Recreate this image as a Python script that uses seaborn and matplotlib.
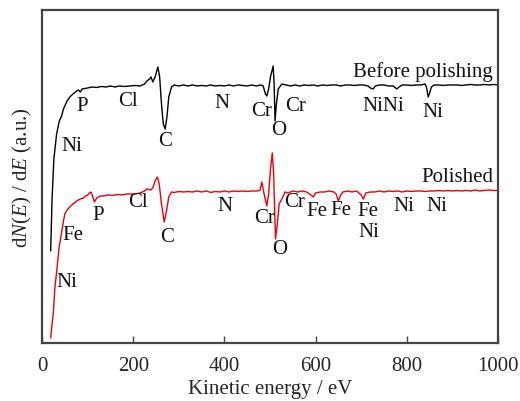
import matplotlib
matplotlib.use("Agg")
import matplotlib.pyplot as plt
import seaborn as sns
import pandas as pd

# ---- data (kinetic energy in eV, intensity in a.u.) ----
before_energy = [19, 22, 26, 32, 38, 43, 47, 55, 61, 68, 76, 80, 84, 88, 100, 110, 120, 130, 140, 150,
                 160, 170, 180, 193, 205, 215, 225, 230, 236, 239, 243, 248, 254, 258, 262, 266, 270, 274,
                 278, 284, 290, 300, 310, 320, 330, 340, 350, 360, 370, 380, 390, 400, 410, 420, 430, 440,
                 450, 460, 470, 480, 485, 490, 493, 497, 501, 507, 509, 511, 514, 518, 526, 535, 545, 555,
                 565, 575, 585, 595, 605, 615, 625, 635, 645, 655, 665, 675, 685, 695, 705, 715, 720, 726,
                 731, 740, 750, 760, 770, 778, 783, 790, 800, 810, 820, 830, 840, 843, 847, 850, 854, 860,
                 870, 880, 890, 900, 910, 920, 930, 940, 950, 960, 970, 980, 990, 1000]
before_signal = [92, 144, 184, 209, 222, 227, 234, 242, 246, 249, 252, 253, 251, 254, 255, 256, 255.5, 256.5,
                 256, 257, 256, 257, 256.5, 257, 257.5, 257, 259, 262, 264, 266, 261, 266, 276, 266, 239, 219,
                 214, 226, 246, 256, 258, 257, 258, 257, 258, 257, 257.5, 257, 258, 257, 257.5, 257, 258, 257,
                 258, 257.5, 257, 258, 257, 258, 257, 249, 247, 254, 266, 277, 259, 222, 239, 254, 259, 258,
                 257, 258, 257, 258, 257.5, 258, 257, 258, 257.5, 258, 258, 257, 258, 258, 257.5, 258, 258,
                 257, 255, 254, 257, 258, 258, 257, 257, 254, 256, 258, 258, 257.5, 258, 258, 259, 256, 246,
                 250, 256, 258, 258, 257.5, 258, 258, 258, 257.5, 258, 258.5, 258, 258, 258.5, 258, 258.5, 258]

polished_energy = [19, 22, 25, 28, 32, 37, 43, 47, 50, 55, 61, 68, 76, 84, 91, 96, 100, 104, 107, 110, 115,
                   120, 128, 135, 145, 155, 165, 175, 185, 193, 205, 215, 225, 230, 238, 243, 248, 253, 257,
                   262, 268, 273, 278, 284, 290, 300, 310, 320, 330, 340, 350, 360, 370, 380, 390, 400, 410,
                   420, 430, 440, 450, 460, 470, 478, 482, 487, 493, 497, 501, 505, 508, 512, 516, 520, 526,
                   533, 540, 550, 560, 570, 580, 590, 595, 600, 610, 620, 630, 640, 645, 650, 655, 660, 670,
                   680, 690, 700, 705, 710, 720, 730, 740, 750, 760, 770, 780, 790, 800, 810, 820, 830, 840,
                   850, 860, 870, 880, 890, 900, 910, 920, 930, 940, 950, 960, 970, 980, 990, 1000]
polished_signal = [5, 19, 31, 54, 71, 94, 111, 122, 129, 133, 136, 139, 142, 144, 145, 147, 148, 150, 151, 148,
                   141, 145, 147, 147, 148, 147.5, 148.5, 148, 149, 149, 149, 150, 152, 154, 153, 155, 162, 166,
                   159, 139, 121, 132, 146, 151, 150.5, 151.5, 151, 151.5, 151, 152, 151, 152, 150.5, 151.5,
                   151, 152, 151, 152, 151.5, 152, 151.5, 152, 152, 152.5, 161, 149, 137, 149, 174, 190, 169,
                   104, 119, 139, 144, 151, 150, 152, 151, 152, 151, 148, 146, 150, 151, 151, 152, 151, 149,
                   142, 148, 151, 152, 151, 152, 148, 144, 150, 151, 151, 152, 151, 152, 151.5, 152, 151, 152,
                   151.5, 152, 152, 151.5, 152, 152, 152.5, 152, 152.5, 152, 152.5, 152, 152.5, 152, 153, 152,
                   152.5, 153, 152.5, 152.5]

series_names = ["Before polishing", "Polished"]
series_colors = ["#000000", "#e8000b"]

before_labels = ["Ni", "P", "Cl", "C", "N", "Cr", "O", "Cr", "NiNi", "Ni"]
before_label_x = [66, 88, 189, 270, 395, 482, 520, 555, 748, 857]
before_label_y = [197, 237, 242, 202, 240, 232, 213, 237, 237, 231]

polished_labels = ["Fe", "Ni", "P", "Cl", "C", "N", "Cr", "O", "Cr", "Fe", "Fe", "Fe", "Ni", "Ni", "Ni"]
polished_label_x = [68, 55, 123, 211, 274, 401, 489, 522, 553, 603, 656, 715, 717, 794, 866]
polished_label_y = [108, 61, 128, 141, 106, 137, 125, 94, 141, 132, 133, 132, 111, 137, 137]

x_ticks = [0, 200, 400, 600, 800, 1000]

# ---- styling ----
sns.set_style("ticks")
plt.rcParams["font.family"] = ["Liberation Serif", "DejaVu Serif"]
plt.rcParams["mathtext.fontset"] = "custom"
plt.rcParams["mathtext.rm"] = "Liberation Serif"
plt.rcParams["mathtext.it"] = "Liberation Serif:italic"

df = pd.concat([
    pd.DataFrame({"energy": before_energy, "signal": before_signal, "series": series_names[0]}),
    pd.DataFrame({"energy": polished_energy, "signal": polished_signal, "series": series_names[1]}),
])

fig = plt.figure(figsize=(5.2, 4.02), dpi=100)
ax = fig.add_axes([0.0808, 0.1443, 0.8769, 0.8284])

sns.lineplot(data=df, x="energy", y="signal", hue="series", palette=series_colors,
             hue_order=series_names, sort=False, estimator=None, linewidth=1.0,
             legend=False, ax=ax)

fs = 15
for t, x, y in zip(before_labels, before_label_x, before_label_y):
    ax.text(x, y, t, ha="center", va="center", fontsize=fs, color="#111111")
for t, x, y in zip(polished_labels, polished_label_x, polished_label_y):
    ax.text(x, y, t, ha="center", va="center", fontsize=fs, color="#111111")

ax.text(989, 272, series_names[0], ha="right", va="center", fontsize=fs, color="#111111")
ax.text(989, 166, series_names[1], ha="right", va="center", fontsize=fs, color="#111111")

ax.set_xlim(0, 1000)
ax.set_ylim(0, 333)
ax.set_xticks(x_ticks)
ax.set_xticklabels([str(v) for v in x_ticks], fontsize=fs)
ax.set_yticks([])
ax.tick_params(axis="x", direction="in", length=5, width=1.0, color="#444444", pad=9.5)
for s in ax.spines.values():
    s.set_visible(True)
    s.set_color("#444444")
    s.set_linewidth(1.6)

ax.set_xlabel("Kinetic energy / eV", fontsize=fs, labelpad=2.5)
ax.set_ylabel("d$N$($E$) / d$E$ (a.u.)", fontsize=fs, labelpad=6)

fig.savefig("out.png", dpi=100)
